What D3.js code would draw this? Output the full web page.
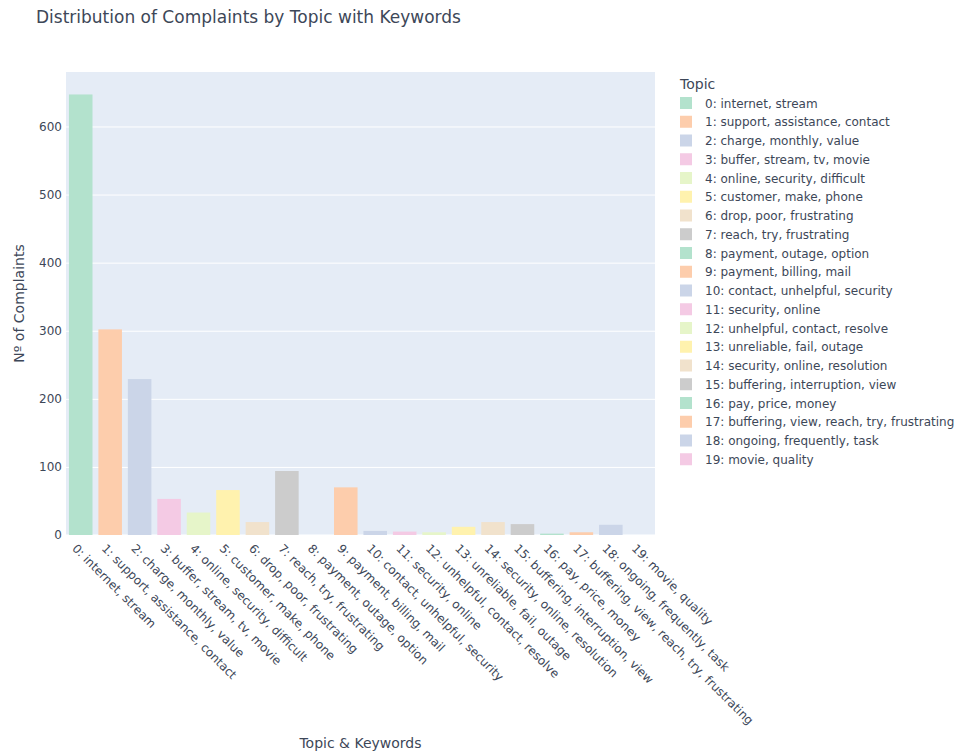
<!DOCTYPE html>
<html>
<head>
<meta charset="utf-8">
<script src="https://cdn.jsdelivr.net/npm/d3@7"></script>
<style>
  body { margin: 0; background: #fff; }
  text { font-family: verdana, "DejaVu Sans", sans-serif; }
</style>
</head>
<body>
<svg id="chart" width="956" height="753"></svg>
<script>
// topic labels (category + keywords)
const topics = [
  "0: internet, stream",
  "1: support, assistance, contact",
  "2: charge, monthly, value",
  "3: buffer, stream, tv, movie",
  "4: online, security, difficult",
  "5: customer, make, phone",
  "6: drop, poor, frustrating",
  "7: reach, try, frustrating",
  "8: payment, outage, option",
  "9: payment, billing, mail",
  "10: contact, unhelpful, security",
  "11: security, online",
  "12: unhelpful, contact, resolve",
  "13: unreliable, fail, outage",
  "14: security, online, resolution",
  "15: buffering, interruption, view",
  "16: pay, price, money",
  "17: buffering, view, reach, try, frustrating",
  "18: ongoing, frequently, task",
  "19: movie, quality"
];
// number of complaints per topic
const counts = [647, 302, 229, 53, 33, 66, 19, 94, 0, 70, 6, 5, 4, 12, 19, 16, 2, 4, 15, 0];
const yTicks = [0, 100, 200, 300, 400, 500, 600];
// Pastel2 palette, cycled
const palette = ["#b3e2cd", "#fdcdac", "#cbd5e8", "#f4cae4", "#e6f5c9", "#fff2ae", "#f1e2cc", "#cccccc"];

const svg = d3.select("#chart");
const textColor = "#3d4758";
const margin = { left: 66, right: 655, top: 72, bottom: 535 };

const x = d3.scaleBand()
  .domain(topics)
  .range([margin.left, margin.right])
  .paddingInner(0.2)
  .paddingOuter(0.1);

const y = d3.scaleLinear()
  .domain([0, 680])
  .range([margin.bottom, margin.top]);

const color = d3.scaleOrdinal(topics, topics.map((_, i) => palette[i % palette.length]));

// plot background
svg.append("rect")
  .attr("x", margin.left)
  .attr("y", margin.top)
  .attr("width", margin.right - margin.left)
  .attr("height", margin.bottom - margin.top)
  .attr("fill", "#e5ecf6");

// grid lines + y labels
const yAxis = svg.append("g")
  .attr("transform", `translate(${margin.left},0)`)
  .call(d3.axisLeft(y).tickValues(yTicks).tickSize(-(margin.right - margin.left)).tickPadding(4));
yAxis.select(".domain").remove();
yAxis.selectAll(".tick line").attr("stroke", "#fff").attr("stroke-width", 1)
  .filter(d => d === 0).attr("stroke-width", 2);
yAxis.selectAll(".tick text").attr("fill", textColor).attr("font-size", 12);

// bars
svg.append("g")
  .selectAll("rect")
  .data(topics)
  .join("rect")
  .attr("x", d => x(d))
  .attr("width", x.bandwidth())
  .attr("y", (d, i) => y(counts[i]))
  .attr("height", (d, i) => y(0) - y(counts[i]))
  .attr("fill", d => color(d));

// x labels, rotated 45 degrees
const xAxis = svg.append("g")
  .attr("transform", `translate(0,${margin.bottom})`)
  .call(d3.axisBottom(x).tickSize(0).tickPadding(0));
xAxis.select(".domain").remove();
xAxis.selectAll(".tick text")
  .attr("fill", textColor)
  .attr("font-size", 12)
  .attr("text-anchor", "start")
  .attr("dy", null)
  .attr("y", 0)
  .attr("transform", "translate(-3,8) rotate(45)")
  .attr("dominant-baseline", "hanging");

// title
svg.append("text")
  .attr("x", 36)
  .attr("y", 23)
  .attr("font-size", 17)
  .attr("fill", textColor)
  .text("Distribution of Complaints by Topic with Keywords");

// axis titles
svg.append("text")
  .attr("transform", `translate(24,${(margin.top + margin.bottom) / 2}) rotate(-90)`)
  .attr("text-anchor", "middle")
  .attr("font-size", 14)
  .attr("fill", textColor)
  .text("Nº of Complaints");

svg.append("text")
  .attr("x", (margin.left + margin.right) / 2)
  .attr("y", 748)
  .attr("text-anchor", "middle")
  .attr("font-size", 14)
  .attr("fill", textColor)
  .text("Topic & Keywords");

// legend
const legend = svg.append("g").attr("transform", "translate(680,0)");
legend.append("text")
  .attr("x", 0)
  .attr("y", 89)
  .attr("font-size", 14)
  .attr("fill", textColor)
  .text("Topic");

const item = legend.selectAll("g.item")
  .data(topics)
  .join("g")
  .attr("class", "item")
  .attr("transform", (d, i) => `translate(0,${103 + i * 18.75})`);
item.append("rect")
  .attr("x", 0)
  .attr("y", -6)
  .attr("width", 12)
  .attr("height", 12)
  .attr("fill", d => color(d));
item.append("text")
  .attr("x", 25)
  .attr("y", 4.5)
  .attr("font-size", 12)
  .attr("fill", textColor)
  .text(d => d);
</script>
</body>
</html>
